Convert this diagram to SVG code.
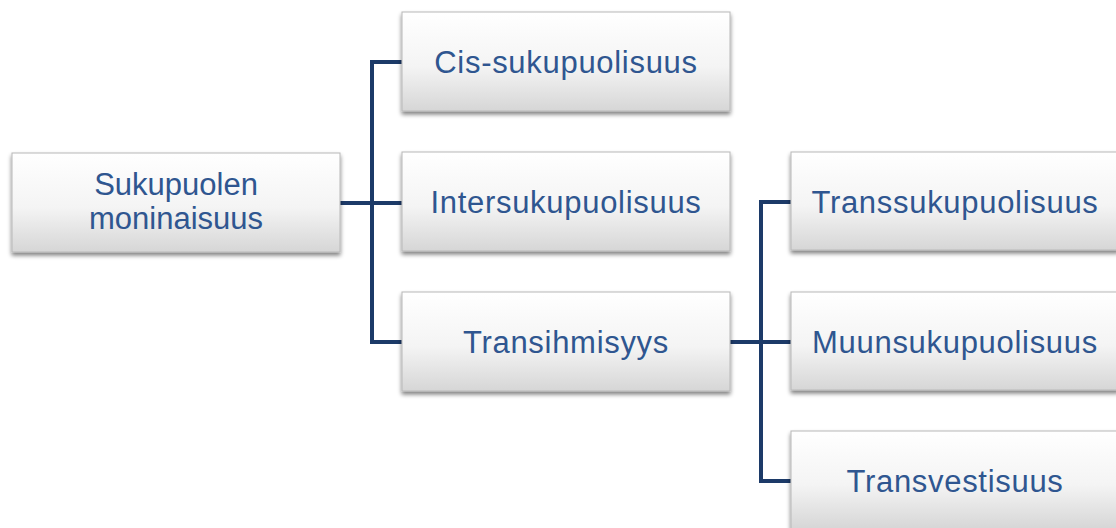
<svg xmlns="http://www.w3.org/2000/svg" width="1116" height="528" viewBox="0 0 1116 528">
<defs>
<linearGradient id="g" x1="0" y1="0" x2="0" y2="1">
<stop offset="0" stop-color="#ffffff"/>
<stop offset="0.55" stop-color="#f4f4f4"/>
<stop offset="1" stop-color="#d6d6d6"/>
</linearGradient>
<filter id="sh" x="-10%" y="-10%" width="120%" height="130%">
<feGaussianBlur in="SourceAlpha" stdDeviation="2"/>
<feOffset dx="0" dy="3" result="b"/>
<feComponentTransfer><feFuncA type="linear" slope="0.5"/></feComponentTransfer>
<feMerge><feMergeNode/><feMergeNode in="SourceGraphic"/></feMerge>
</filter>
</defs>
<style>
.box{fill:url(#g);stroke:#b8b8b8;stroke-width:1;filter:url(#sh)}
.t{font-family:"Liberation Sans",Arial,sans-serif;font-size:31px;fill:#2f5690;text-anchor:middle;letter-spacing:0.7px}
.r{letter-spacing:0}
.c{fill:none;stroke:#1c3a68;stroke-width:4}
</style>
<rect width="1116" height="528" fill="#ffffff"/>
<g id="connectors">
<path class="c" d="M340 203 H402"/>
<path class="c" d="M402 62 H372 V342 H402"/>
<path class="c" d="M730 342 H791"/>
<path class="c" d="M791 202 H761 V481 H791"/>
</g>
<g id="n1"><rect class="box" x="12" y="153" width="328" height="99"/><text class="t r" x="176" y="195">Sukupuolen</text><text class="t r" x="176" y="229">moninaisuus</text></g>
<g id="n2"><rect class="box" x="402" y="12" width="328" height="99"/><text class="t" x="566" y="73">Cis-sukupuolisuus</text></g>
<g id="n3"><rect class="box" x="402" y="152" width="328" height="99"/><text class="t" x="566" y="213">Intersukupuolisuus</text></g>
<g id="n4"><rect class="box" x="402" y="292" width="328" height="99"/><text class="t" x="566" y="353">Transihmisyys</text></g>
<g id="n5"><rect class="box" x="791" y="152" width="328" height="98"/><text class="t" x="955" y="213">Transsukupuolisuus</text></g>
<g id="n6"><rect class="box" x="791" y="292" width="328" height="98"/><text class="t" x="955" y="353">Muunsukupuolisuus</text></g>
<g id="n7"><rect class="box" x="791" y="431" width="328" height="98"/><text class="t" x="955" y="492">Transvestisuus</text></g>
</svg>
